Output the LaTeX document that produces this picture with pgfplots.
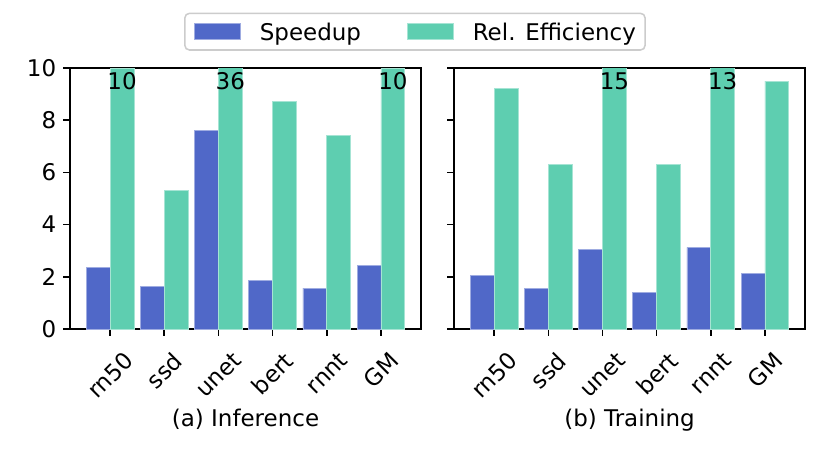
\documentclass[border=0pt]{standalone}
\usepackage{pgfplots}
\pgfplotsset{compat=1.18}
\usepackage{fontspec}
\setmainfont{DejaVu Sans}
\definecolor{cblue}{HTML}{5068C8}
\definecolor{cgreen}{HTML}{5ECEB0}
\definecolor{legframe}{HTML}{CCCCCC}
\tikzset{toplab/.style={anchor=north, inner sep=0pt, yshift=-2.1pt, font=\fontsize{12}{14.4}\selectfont}}
\begin{document}
\fontsize{12}{14.4}\selectfont
\begin{tikzpicture}
\useasboundingbox (0,0) rectangle (433.62pt,238.75pt);
\pgfplotsset{
  myax/.style={
    scale only axis, width=183.4pt, height=136.35pt, anchor=south west,
    xmin=-0.74, xmax=5.74, ymin=0, ymax=10,
    ytick={0,2,4,6,8,10}, xtick={0,1,2,3,4,5},
    xticklabels={\rotatebox{45}{rn50},\rotatebox{45}{ssd},\rotatebox{45}{unet},\rotatebox{45}{bert},\rotatebox{45}{rnnt},\rotatebox{45}{GM}},
    tick align=outside, major tick length=3.5pt,
    xtick pos=lower, ytick pos=left,
    every tick/.style={black, line width=0.8pt},
    axis line style={line width=0.8pt},
    /pgf/number format/assume math mode=true,
    tick label style={font=\fontsize{12}{14.4}\selectfont},
    xticklabel style={anchor=north, inner sep=0pt, yshift=-7.5pt},
    yticklabel style={anchor=east, inner sep=0pt, xshift=-3.5pt},
    label style={font=\fontsize{12}{14.4}\selectfont},
    xlabel style={at={(axis description cs:0.5,0)}, anchor=base, yshift=-50.7pt, inner sep=0pt},
    clip=true,
  },
  bluebar/.style={ybar, bar width=0.44, bar shift=-0.22, fill=cblue, draw=cblue!55!white, line width=0.4pt},
  greenbar/.style={ybar, bar width=0.44, bar shift=0.22, fill=cgreen, draw=cgreen!55!white, line width=0.4pt},
}
\begin{axis}[myax, at={(36.57pt,66.87pt)},
  xlabel={(a) Inference},
  legend columns=2,
  legend image code/.code={\fill[#1, sharp corners] (0pt,-3.6pt) rectangle (24pt,4.8pt);},
  legend style={at={(0.9827,1.1392)}, anchor=center, draw=legframe, line width=0.8pt,
    rounded corners=2.4pt, inner xsep=4.8pt, inner ysep=4.8pt,
    font=\fontsize{12}{14.4}\selectfont,
    nodes={inner sep=0pt, text depth=0pt},
    /tikz/every odd column/.append style={column sep=10pt},
    /tikz/every even column/.append style={column sep=24pt}},
  ]
\addplot[bluebar] coordinates {(0,2.37) (1,1.62) (2,7.62) (3,1.85) (4,1.57) (5,2.43)};
\addlegendentry{Speedup}
\addplot[greenbar] coordinates {(0,10) (1,5.32) (2,36) (3,8.71) (4,7.42) (5,10)};
\addlegendentry{Rel. Efficiency}
\node[toplab] at (axis cs:0.22,10) {10};
\node[toplab] at (axis cs:2.22,10) {36};
\node[toplab] at (axis cs:5.22,10) {10};
\end{axis}
\begin{axis}[myax, at={(237.2pt,66.87pt)},
  xlabel={(b) Training},
  yticklabels={},
  ]
\addplot[bluebar] coordinates {(0,2.06) (1,1.57) (2,3.06) (3,1.41) (4,3.13) (5,2.14)};
\addplot[greenbar] coordinates {(0,9.21) (1,6.30) (2,15) (3,6.30) (4,13) (5,9.50)};
\node[toplab] at (axis cs:2.22,10) {15};
\node[toplab] at (axis cs:4.22,10) {13};
\end{axis}
\end{tikzpicture}
\end{document}
